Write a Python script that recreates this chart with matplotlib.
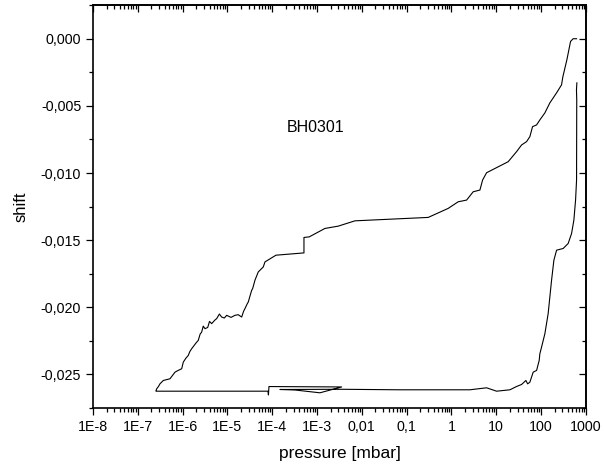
import numpy as np
import matplotlib
matplotlib.use("Agg")
import matplotlib.pyplot as plt

plt.rcParams['font.family'] = ['Liberation Sans', 'DejaVu Sans']

log_p = [2.792, 2.716, 2.658, 2.576, 2.486, 2.457, 2.346, 2.196, 2.085, 1.973,
         1.900, 1.810, 1.750, 1.676, 1.565, 1.453, 1.266, 0.784, 0.695, 0.635,
         0.485, 0.338, 0.150, -0.073, -0.519, -2.154, -2.527, -2.824, -3.174, -3.292,
         -3.292, -3.917, -4.162, -4.200, -4.312, -4.386, -4.437, -4.459, -4.535, -4.560,
         -4.609, -4.640, -4.682, -4.760, -4.832, -4.920, -5.017, -5.070, -5.129, -5.180,
         -5.240, -5.280, -5.352, -5.400, -5.440, -5.501, -5.540, -5.575, -5.610, -5.651,
         -5.700, -5.798, -5.840, -5.874, -5.930, -5.985, -6.021, -6.100, -6.170, -6.282,
         -6.431, -6.505, -6.540, -6.579, -6.594,
         # lower branch
         -6.594, -4.096, -4.085, -4.073, -2.451, -2.935, -3.493, -3.828, -2.451, -1.150,
         0.411, 0.784, 1.007, 1.304, 1.453, 1.565, 1.661, 1.700, 1.750, 1.824,
         1.900, 1.958, 1.973, 2.011, 2.085, 2.158, 2.234, 2.286, 2.346, 2.493,
         2.605, 2.681, 2.732, 2.770, 2.792, 2.796, 2.790, 2.799]
shift = [0.000, 0.000, -0.201, -1.567, -2.836, -3.433, -4.030, -4.776, -5.522, -6.045,
         -6.418, -6.545, -7.291, -7.664, -7.910, -8.410, -9.157, -9.978, -10.522, -11.269,
         -11.396, -12.015, -12.142, -12.634, -13.306, -13.560, -13.955, -14.127, -14.754, -14.799,
         -15.948, -16.119, -16.619, -16.993, -17.366, -17.985, -18.604, -18.731, -19.604, -19.750,
         -20.097, -20.300, -20.724, -20.550, -20.597, -20.750, -20.597, -20.800, -20.724, -20.500,
         -20.843, -20.950, -21.216, -21.050, -21.500, -21.590, -21.400, -21.843, -22.000, -22.463,
         -22.650, -23.082, -23.300, -23.582, -23.800, -24.082, -24.575, -24.700, -24.828, -25.321,
         -25.448, -25.694, -25.900, -26.067, -26.194,
         -26.246, -26.246, -26.530, -25.900, -25.930, -26.366, -26.157, -26.119, -26.104, -26.142,
         -26.142, -25.993, -26.246, -26.142, -25.896, -25.746, -25.448, -25.700, -25.575, -24.828,
         -24.701, -23.955, -23.455, -22.963, -21.963, -20.470, -17.985, -16.493, -15.746, -15.619,
         -15.246, -14.500, -13.507, -12.015, -10.522, -4.550, -3.810, -3.284]

pressure = 10.0 ** np.array(log_p)
shift = np.array(shift) * 1e-3

x_ticks = [1e-8, 1e-7, 1e-6, 1e-5, 1e-4, 1e-3, 1e-2, 1e-1, 1, 10, 100, 1000]
x_labels = ['1E-8', '1E-7', '1E-6', '1E-5', '1E-4', '1E-3', '0,01', '0,1', '1', '10', '100', '1000']
y_ticks = [-0.025, -0.020, -0.015, -0.010, -0.005, 0.000]
y_labels = ['-0,025', '-0,020', '-0,015', '-0,010', '-0,005', '0,000']
y_minor = [-0.0275, -0.0225, -0.0175, -0.0125, -0.0075, -0.0025, 0.0025]
x_minor = [m * d for d in x_ticks[:-1] for m in range(2, 10)]

fig = plt.figure(figsize=(6.04, 4.69), dpi=100)
ax = fig.add_axes([0.154, 0.130, 0.816, 0.859])

ax.plot(pressure, shift, color='black', linewidth=0.8)

ax.set_xscale('log')
ax.set_xlim(1e-8, 1000)
ax.set_ylim(-0.0275, 0.0025)
ax.set_xticks(x_ticks)
ax.set_xticklabels(x_labels)
ax.set_xticks(x_minor, minor=True)
ax.set_yticks(y_ticks)
ax.set_yticklabels(y_labels)
ax.set_yticks(y_minor, minor=True)
ax.tick_params(which='both', direction='out', labelsize=10.3, width=0.9)
ax.tick_params(which='major', length=5)
ax.tick_params(which='minor', length=3)
for s in ax.spines.values():
    s.set_linewidth(1.2)

top = ax.secondary_xaxis('top')
top.set_xticks(x_ticks)
top.set_xticks(x_minor, minor=True)
top.tick_params(which='both', direction='in', labeltop=False, width=0.9)
top.tick_params(which='major', length=5)
top.tick_params(which='minor', length=3)
top.spines['top'].set_linewidth(1.2)

right = ax.secondary_yaxis('right')
right.set_yticks(y_ticks)
right.set_yticks(y_minor, minor=True)
right.tick_params(which='both', direction='in', labelright=False, width=0.9)
right.tick_params(which='major', length=5)
right.tick_params(which='minor', length=3)
right.spines['right'].set_linewidth(1.2)

ax.set_xlabel('pressure [mbar]', fontsize=12.5, labelpad=9)
ax.set_ylabel('shift', fontsize=12, labelpad=9)
ax.text(2.1e-4, -0.0066, 'BH0301', fontsize=11.5, va='center', ha='left')

fig.savefig('out.png', dpi=100)
